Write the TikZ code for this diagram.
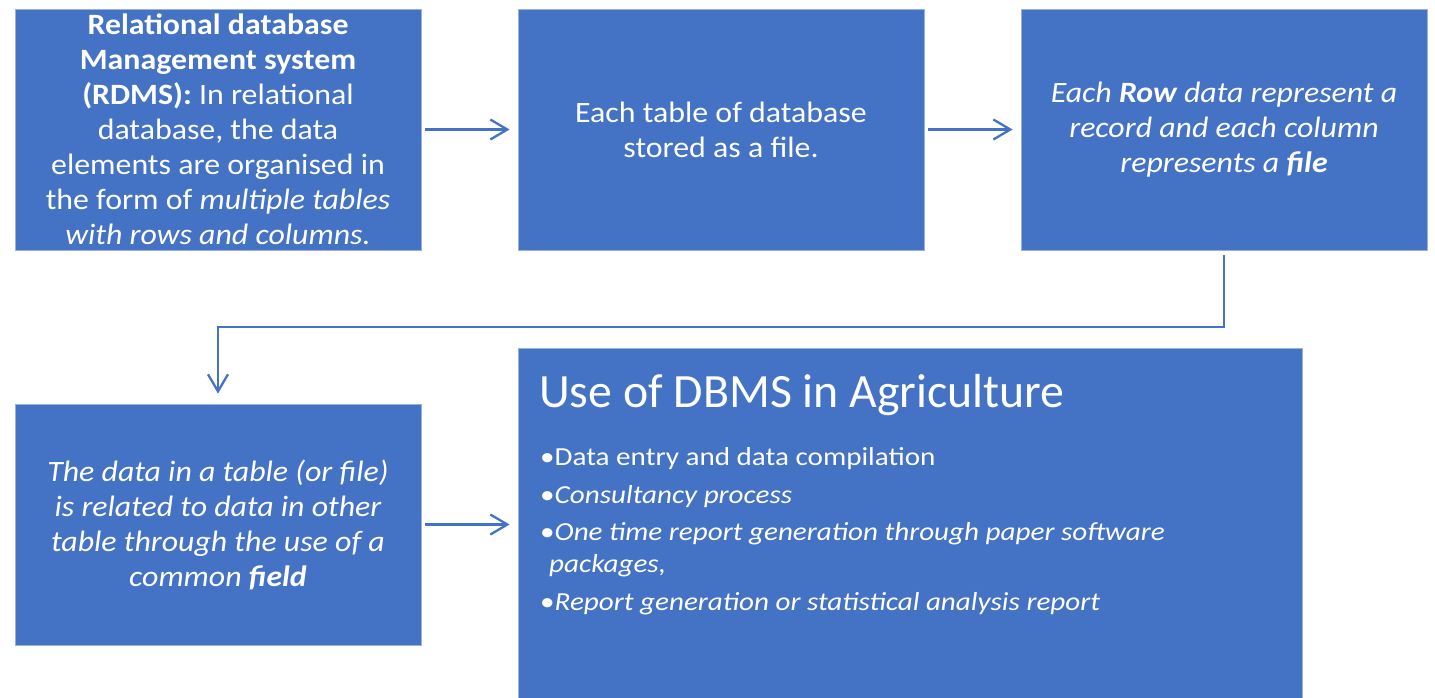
\documentclass[tikz,border=0pt]{standalone}
\usepackage{fontspec}
\setmainfont{Carlito}
\newfontfamily\boxfont{Carlito}[FakeStretch=1.08]
\newfontfamily\listfont{Carlito}[FakeStretch=1.12]
\usetikzlibrary{arrows.meta}
\definecolor{boxblue}{HTML}{4472C4}
\definecolor{arrowblue}{HTML}{4472C4}
\begin{document}
\begin{tikzpicture}[x=1pt,y=-1pt,
  box/.style={rectangle, fill=boxblue, draw=boxblue!55!white, line width=0.8pt,
    minimum width=406pt, minimum height=241pt, inner sep=3pt, text=white,
    align=center, font=\boxfont\fontsize{29.5}{35}\selectfont},
  bigbox/.style={rectangle, fill=boxblue, draw=boxblue!55!white, line width=0.8pt,
    minimum width=784pt, minimum height=352pt, inner sep=0pt},
  listitem/.style={anchor=base west, inner sep=0pt, text=white,
    font=\listfont\fontsize{26}{32}\selectfont},
  titletext/.style={anchor=base west, inner sep=0pt, text=white,
    font=\fontsize{47.8}{56}\selectfont},
  arr/.style={draw=arrowblue, line width=2.3pt, -{Straight Barb[length=17pt,width=20pt]}}
]
\useasboundingbox (0,0) rectangle (1435,697);

\node[box] (b1) at (218,129.5) {\textbf{Relational database}\\ \textbf{Management system}\\ \textbf{(RDMS):} In relational\\ database, the data\\ elements are organised in\\ the form of \textit{multiple tables}\\ \textit{with rows and columns.}};
\node[box] (b2) at (721,129.5) {Each table of database\\ stored as a file.};
\node[box] (b3) at (1224,129.5) {\itshape Each \textbf{Row} data represent a\\ \itshape record and each column\\ \itshape represents a \textbf{file}};
\node[bigbox] (b5) at (910,524) {};
\node[box] (b4) at (218,524.5) {\itshape The data in a table (or file)\\ \itshape is related to data in other\\ \itshape table through the use of a\\ \itshape common \textbf{field}};

\node[titletext] (t5) at (539,407) {Use of DBMS in Agriculture};
\node[listitem] (l1) at (540,465) {•Data entry and data compilation};
\node[listitem] (l2) at (540,503) {•\textit{Consultancy process}};
\node[listitem] (l3) at (540,540) {\vtop{\baselineskip=32pt\hbox{•\textit{One time report generation through paper software}}\hbox{\hspace*{9pt}\textit{packages,}}}};
\node[listitem] (l4) at (540,610) {•\textit{Report generation or statistical analysis report}};

\coordinate (elb) at (721,327);
\draw[arr, shorten <=4pt, shorten >=8pt] (b1) -- (b2);
\draw[arr, shorten <=4pt, shorten >=8pt] (b2) -- (b3);
\draw[arr, shorten <=5pt, shorten >=10pt] (b3.south) -- (b3.south |- elb) -- (b4.north |- elb) -- (b4.north);
\draw[arr, shorten <=4pt, shorten >=8pt] (b4.east) -- (b4.east -| b5.west);
\end{tikzpicture}
\end{document}
